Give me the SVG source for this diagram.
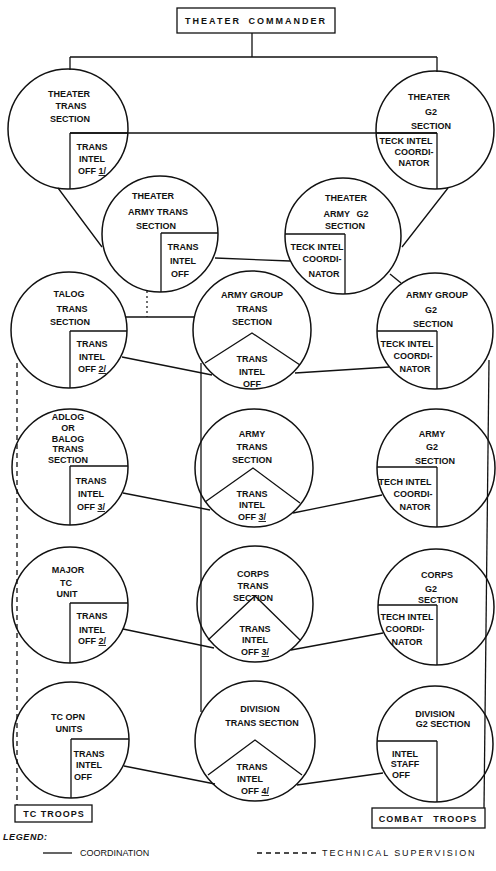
<svg xmlns="http://www.w3.org/2000/svg" width="496" height="871" viewBox="0 0 496 871">
<style>
.c{fill:none;stroke:#111;stroke-width:1.5}
.l{fill:none;stroke:#111;stroke-width:1.3}
.d{fill:none;stroke:#111;stroke-width:1.3;stroke-dasharray:5 4}
.dt{fill:none;stroke:#111;stroke-width:1.2;stroke-dasharray:2 3}
text{font-family:"Liberation Sans",Arial,sans-serif;font-weight:bold;font-size:9px;fill:#111;text-anchor:middle}
.u{text-decoration:underline}
.lg{text-anchor:start;font-weight:normal}
</style>
<rect width="496" height="871" fill="#fff"/>

<g id="connectors">
<path class="l" d="M252 33V57M70 57H437M70 57V70M437 57V72"/>
<path class="l" d="M70 133H437"/>
<path class="l" d="M58 188L102 247M448 188L402 247"/>
<path class="l" d="M215 258L290 261"/>
<path class="dt" d="M147 291V317"/>
<path class="l" d="M126 317H195"/>
<path class="l" d="M390 274L401 283"/>
<path class="l" d="M122 357L212 375M295 373L389 367"/>
<path class="l" d="M123 493L210 510M293 513L382 495"/>
<path class="l" d="M123 629L214 648M291 650L383 633"/>
<path class="l" d="M124 766L215 784M297 785L383 773"/>
<path class="l" d="M201 363V712"/>
<path class="l" d="M489 360L484 808"/>
<path class="d" d="M17 363V805"/>
</g>

<g id="theater-commander">
<rect class="l" x="177" y="8" width="158" height="25"/>
<text x="256" y="24" style="letter-spacing:2px;word-spacing:3px">THEATER COMMANDER</text>
</g>

<g id="theater-trans">
<circle class="c" cx="68" cy="129" r="60"/>
<path class="l" d="M70 133H128M70 133V189"/>
<text x="69" y="97">THEATER</text>
<text x="71" y="109">TRANS</text>
<text x="70" y="122">SECTION</text>
<text x="92" y="150">TRANS</text>
<text x="92" y="162">INTEL</text>
<text x="92" y="174">OFF <tspan class="u">1/</tspan></text>
</g>

<g id="theater-g2">
<circle class="c" cx="435" cy="130" r="59"/>
<path class="l" d="M376 133H437M437 133V189"/>
<text x="429" y="100">THEATER</text>
<text x="431" y="115">G2</text>
<text x="431" y="129">SECTION</text>
<text x="406" y="144">TECK INTEL</text>
<text x="414" y="155">COORDI-</text>
<text x="414" y="166">NATOR</text>
</g>

<g id="theater-army-trans">
<circle class="c" cx="160" cy="234" r="58"/>
<path class="l" d="M161 233H218M161 233V292"/>
<text x="153" y="199">THEATER</text>
<text x="158" y="215">ARMY TRANS</text>
<text x="156" y="229">SECTION</text>
<text x="183" y="250">TRANS</text>
<text x="183" y="264">INTEL</text>
<text x="180" y="277">OFF</text>
</g>

<g id="theater-army-g2">
<circle class="c" cx="343" cy="236" r="58"/>
<path class="l" d="M285 234H345M345 234V294"/>
<text x="346" y="201">THEATER</text>
<text x="346" y="217" style="word-spacing:4px">ARMY G2</text>
<text x="345" y="229">SECTION</text>
<text x="317" y="250">TECK INTEL</text>
<text x="322" y="262">COORDI-</text>
<text x="324" y="277">NATOR</text>
</g>

<g id="talog-trans">
<circle class="c" cx="69" cy="330" r="58"/>
<path class="l" d="M70 331H127M70 331V388"/>
<text x="69" y="297">TALOG</text>
<text x="72" y="312">TRANS</text>
<text x="70" y="325">SECTION</text>
<text x="92" y="347">TRANS</text>
<text x="92" y="360">INTEL</text>
<text x="92" y="372">OFF <tspan class="u">2/</tspan></text>
</g>

<g id="army-group-trans">
<circle class="c" cx="252" cy="330" r="59"/>
<path class="l" d="M205 363L252 333L300 365"/>
<text x="252" y="298">ARMY GROUP</text>
<text x="252" y="312">TRANS</text>
<text x="252" y="325">SECTION</text>
<text x="252" y="362">TRANS</text>
<text x="252" y="375">INTEL</text>
<text x="252" y="387">OFF</text>
</g>

<g id="army-group-g2">
<circle class="c" cx="435" cy="331" r="58"/>
<path class="l" d="M377 331H437M437 331V389"/>
<text x="437" y="298">ARMY GROUP</text>
<text x="431" y="313">G2</text>
<text x="433" y="327">SECTION</text>
<text x="407" y="347">TECK INTEL</text>
<text x="413" y="359">COORDI-</text>
<text x="415" y="372">NATOR</text>
</g>

<g id="adlog-balog-trans">
<circle class="c" cx="70" cy="467" r="58"/>
<path class="l" d="M70 466H128M70 466V525"/>
<text x="68" y="420">ADLOG</text>
<text x="68" y="431">OR</text>
<text x="68" y="442">BALOG</text>
<text x="68" y="452">TRANS</text>
<text x="68" y="463">SECTION</text>
<text x="91" y="484">TRANS</text>
<text x="91" y="497">INTEL</text>
<text x="91" y="510">OFF <tspan class="u">3/</tspan></text>
</g>

<g id="army-trans">
<circle class="c" cx="254" cy="468" r="59"/>
<path class="l" d="M205 502L253 468L300 503"/>
<text x="252" y="437">ARMY</text>
<text x="252" y="450">TRANS</text>
<text x="252" y="463">SECTION</text>
<text x="252" y="497">TRANS</text>
<text x="252" y="508">INTEL</text>
<text x="252" y="520">OFF <tspan class="u">3/</tspan></text>
</g>

<g id="army-g2">
<circle class="c" cx="436" cy="468" r="59"/>
<path class="l" d="M377 467H437M437 467V527"/>
<text x="432" y="437">ARMY</text>
<text x="432" y="450">G2</text>
<text x="435" y="464">SECTION</text>
<text x="405" y="485">TECH INTEL</text>
<text x="413" y="497">COORDI-</text>
<text x="415" y="510">NATOR</text>
</g>

<g id="major-tc-unit">
<circle class="c" cx="70" cy="605" r="58"/>
<path class="l" d="M70 603H128M70 603V663"/>
<text x="68" y="573">MAJOR</text>
<text x="66" y="586">TC</text>
<text x="67" y="597">UNIT</text>
<text x="92" y="619">TRANS</text>
<text x="92" y="633">INTEL</text>
<text x="92" y="644">OFF <tspan class="u">2/</tspan></text>
</g>

<g id="corps-trans">
<circle class="c" cx="255" cy="604" r="58"/>
<path class="l" d="M208 640L255 596L300 640"/>
<text x="253" y="577">CORPS</text>
<text x="253" y="589">TRANS</text>
<text x="253" y="601">SECTION</text>
<text x="255" y="632">TRANS</text>
<text x="255" y="643">INTEL</text>
<text x="255" y="655">OFF <tspan class="u">3/</tspan></text>
</g>

<g id="corps-g2">
<circle class="c" cx="436" cy="607" r="58"/>
<path class="l" d="M378 605H437M437 605V665"/>
<text x="437" y="578">CORPS</text>
<text x="431" y="592">G2</text>
<text x="438" y="603">SECTION</text>
<text x="407" y="620">TECH INTEL</text>
<text x="405" y="632">COORDI-</text>
<text x="407" y="645">NATOR</text>
</g>

<g id="tc-opn-units">
<circle class="c" cx="71" cy="740" r="58"/>
<path class="l" d="M71 739H129M71 739V798"/>
<text x="68" y="720">TC OPN</text>
<text x="69" y="732">UNITS</text>
<text x="89" y="757">TRANS</text>
<text x="89" y="768">INTEL</text>
<text x="83" y="780">OFF</text>
</g>

<g id="division-trans">
<circle class="c" cx="255" cy="741" r="60"/>
<path class="l" d="M208 775L255 740L302 775"/>
<text x="260" y="712">DIVISION</text>
<text x="262" y="726">TRANS SECTION</text>
<text x="252" y="770">TRANS</text>
<text x="250" y="782">INTEL</text>
<text x="255" y="794">OFF <tspan class="u">4/</tspan></text>
</g>

<g id="division-g2">
<circle class="c" cx="435" cy="744" r="58"/>
<path class="l" d="M377 741H437M437 741V802"/>
<text x="435" y="717">DIVISION</text>
<text x="443" y="727">G2 SECTION</text>
<text x="405" y="757">INTEL</text>
<text x="405" y="767">STAFF</text>
<text x="401" y="778">OFF</text>
</g>

<g id="tc-troops">
<rect class="l" x="15" y="805" width="77" height="17"/>
<text x="54" y="817" style="letter-spacing:1px">TC TROOPS</text>
</g>

<g id="combat-troops">
<rect class="l" x="372" y="808" width="113" height="20"/>
<text x="428" y="822" style="letter-spacing:1px;word-spacing:6px">COMBAT TROOPS</text>
</g>

<g id="legend">
<text x="3" y="840" style="text-anchor:start;font-style:italic;font-size:9px;letter-spacing:0.6px">LEGEND:</text>
<path class="l" d="M43 853H72"/>
<text class="lg" x="80" y="856">COORDINATION</text>
<path class="d" d="M257 853H320"/>
<text class="lg" x="322" y="856" style="letter-spacing:1.9px">TECHNICAL SUPERVISION</text>
</g>
</svg>
